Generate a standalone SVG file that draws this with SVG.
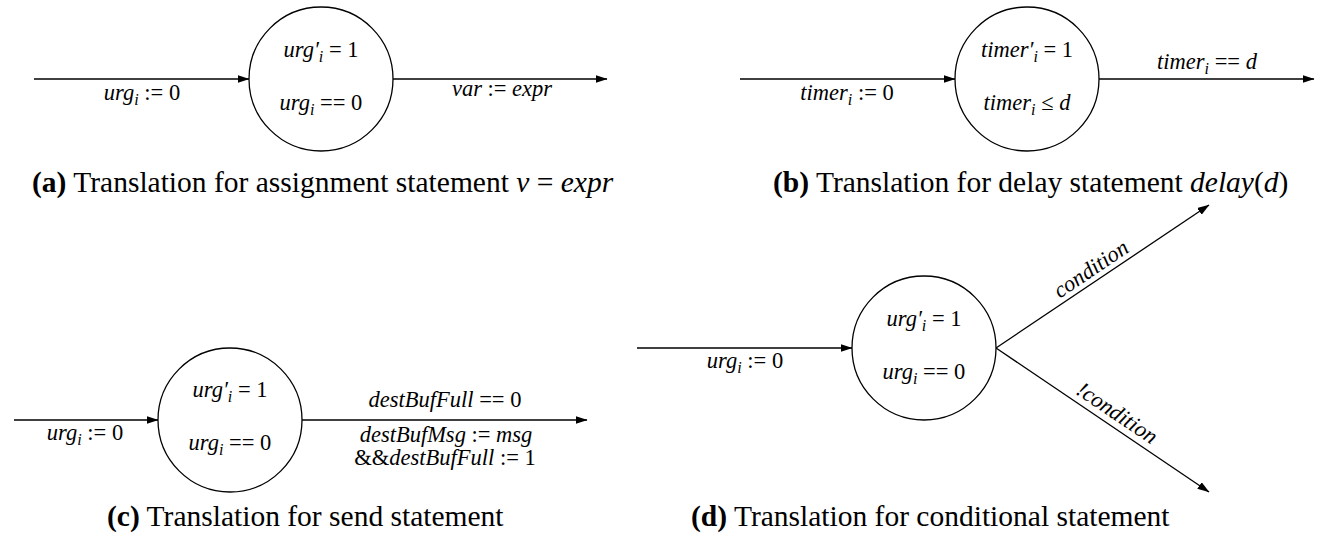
<svg xmlns="http://www.w3.org/2000/svg" width="1319" height="538" viewBox="0 0 1319 538">
<style>
  .t { font-family: "Liberation Serif", "Times New Roman", serif; font-size: 22.5px; fill: #000; }
  .i { font-style: italic; }
  .s { font-style: italic; font-size: 16px; }
  .cap { font-family: "Liberation Serif", "Times New Roman", serif; font-size: 29.5px; fill: #000; }
  .b { font-weight: bold; }
  .node { fill: #fff; stroke: #000; stroke-width: 1.3; }
  .edge { fill: none; stroke: #000; stroke-width: 1.3; marker-end: url(#arr); }
</style>
<defs>
  <marker id="arr" viewBox="0 0 12 8" refX="11.5" refY="4" markerWidth="12" markerHeight="8" markerUnits="userSpaceOnUse" orient="auto">
    <path d="M0,0 L12,4 L0,8 Z" fill="#000"/>
  </marker>
</defs>
<rect width="1319" height="538" fill="#fff"/>

<g id="connectors">
  <line class="edge" x1="34" y1="79" x2="249" y2="79"/>
  <line class="edge" x1="393" y1="79" x2="607" y2="79"/>
  <line class="edge" x1="740" y1="79" x2="955" y2="79"/>
  <line class="edge" x1="1099" y1="79" x2="1314" y2="79"/>
  <line class="edge" x1="14" y1="420" x2="158" y2="420"/>
  <line class="edge" x1="302" y1="420" x2="587" y2="420"/>
  <line class="edge" x1="637" y1="348" x2="852" y2="348"/>
  <line class="edge" x1="996" y1="348" x2="1209" y2="205"/>
  <line class="edge" x1="996" y1="348" x2="1209" y2="492"/>
</g>

<g id="edge-labels">
  <text class="t" x="142" y="100" text-anchor="middle"><tspan class="i">urg</tspan><tspan class="s" dy="5">i</tspan><tspan dy="-5"> := 0</tspan></text>
  <text class="t" x="502" y="96" text-anchor="middle"><tspan class="i">var</tspan> := <tspan class="i">expr</tspan></text>
  <text class="t" x="847" y="100" text-anchor="middle"><tspan class="i">timer</tspan><tspan class="s" dy="5">i</tspan><tspan dy="-5"> := 0</tspan></text>
  <text class="t" x="1207" y="69" text-anchor="middle"><tspan class="i">timer</tspan><tspan class="s" dy="5">i</tspan><tspan dy="-5"> == </tspan><tspan class="i">d</tspan></text>
  <text class="t" x="85" y="440" text-anchor="middle"><tspan class="i">urg</tspan><tspan class="s" dy="5">i</tspan><tspan dy="-5"> := 0</tspan></text>
  <text class="t" x="445" y="407" text-anchor="middle"><tspan class="i">destBufFull</tspan> == 0</text>
  <text class="t" x="446" y="442" text-anchor="middle"><tspan class="i">destBufMsg</tspan> := <tspan class="i">msg</tspan></text>
  <text class="t" x="445" y="465" text-anchor="middle">&amp;&amp;<tspan class="i">destBufFull</tspan> := 1</text>
  <text class="t" x="745" y="368" text-anchor="middle"><tspan class="i">urg</tspan><tspan class="s" dy="5">i</tspan><tspan dy="-5"> := 0</tspan></text>
  <text class="t i" x="0" y="0" text-anchor="middle" transform="translate(1095,275) rotate(-34)">condition</text>
  <text class="t i" x="0" y="0" text-anchor="middle" transform="translate(1113,419) rotate(34)">!condition</text>
</g>

<g id="node-a">
  <circle class="node" cx="321" cy="79" r="72"/>
  <text class="t" x="321" y="57" text-anchor="middle"><tspan class="i">urg′</tspan><tspan class="s" dy="5">i</tspan><tspan dy="-5"> = 1</tspan></text>
  <text class="t" x="321" y="110" text-anchor="middle"><tspan class="i">urg</tspan><tspan class="s" dy="5">i</tspan><tspan dy="-5"> == 0</tspan></text>
</g>

<g id="node-b">
  <circle class="node" cx="1027" cy="79" r="72"/>
  <text class="t" x="1027" y="57" text-anchor="middle"><tspan class="i">timer′</tspan><tspan class="s" dy="5">i</tspan><tspan dy="-5"> = 1</tspan></text>
  <text class="t" x="1027" y="110" text-anchor="middle"><tspan class="i">timer</tspan><tspan class="s" dy="5">i</tspan><tspan dy="-5"> ≤ </tspan><tspan class="i">d</tspan></text>
</g>

<g id="node-c">
  <circle class="node" cx="230" cy="420" r="72"/>
  <text class="t" x="230" y="397" text-anchor="middle"><tspan class="i">urg′</tspan><tspan class="s" dy="5">i</tspan><tspan dy="-5"> = 1</tspan></text>
  <text class="t" x="230" y="450" text-anchor="middle"><tspan class="i">urg</tspan><tspan class="s" dy="5">i</tspan><tspan dy="-5"> == 0</tspan></text>
</g>

<g id="node-d">
  <circle class="node" cx="924" cy="348" r="72"/>
  <text class="t" x="924" y="326" text-anchor="middle"><tspan class="i">urg′</tspan><tspan class="s" dy="5">i</tspan><tspan dy="-5"> = 1</tspan></text>
  <text class="t" x="924" y="379" text-anchor="middle"><tspan class="i">urg</tspan><tspan class="s" dy="5">i</tspan><tspan dy="-5"> == 0</tspan></text>
</g>

<g id="captions">
  <text class="cap" x="32" y="192"><tspan class="b">(a)</tspan> Translation for assignment statement <tspan class="i">v</tspan> = <tspan class="i">expr</tspan></text>
  <text class="cap" x="773" y="192"><tspan class="b">(b)</tspan> Translation for delay statement <tspan class="i">delay</tspan>(<tspan class="i">d</tspan>)</text>
  <text class="cap" x="107" y="526"><tspan class="b">(c)</tspan> Translation for send statement</text>
  <text class="cap" x="691" y="526"><tspan class="b">(d)</tspan> Translation for conditional statement</text>
</g>
</svg>
